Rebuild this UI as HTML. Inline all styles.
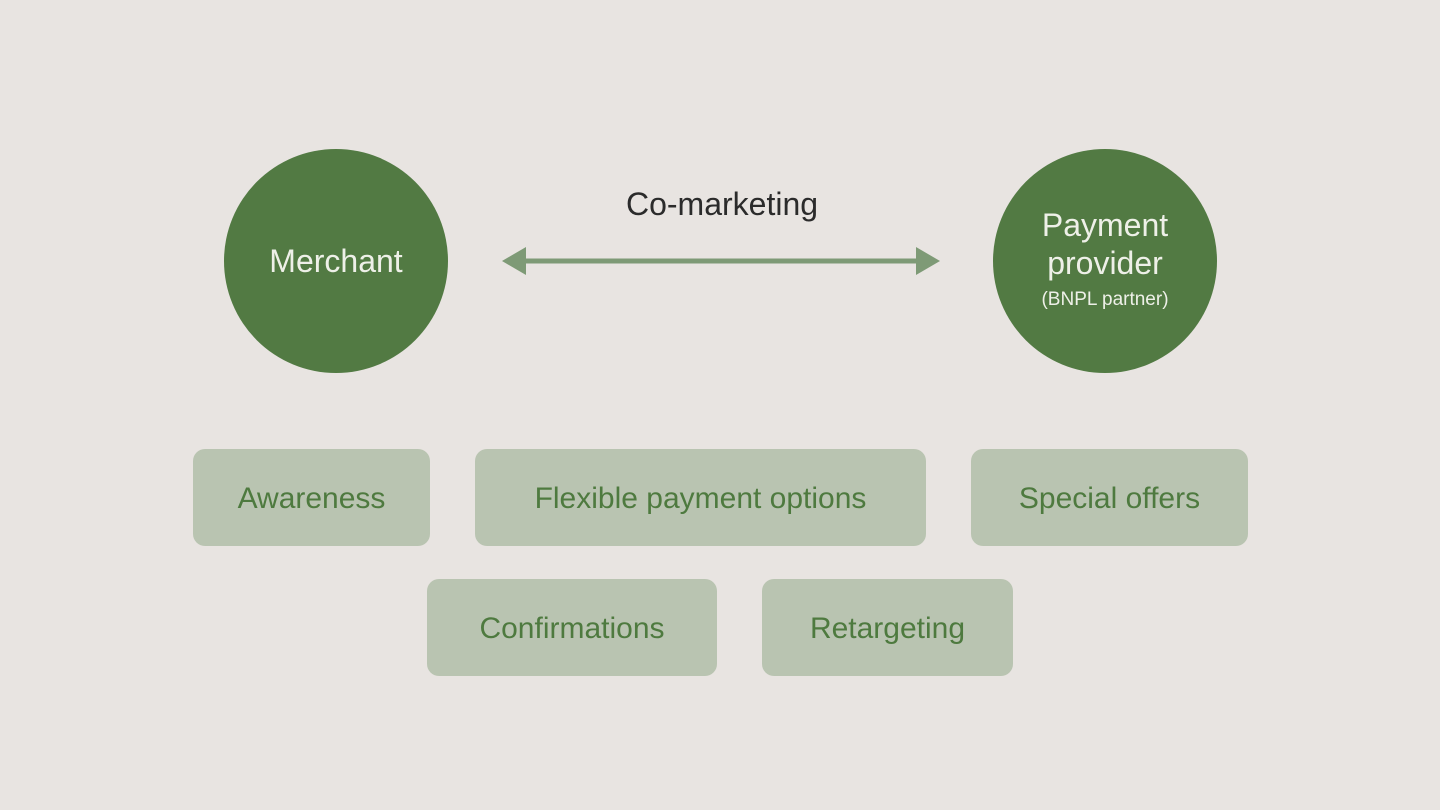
<!DOCTYPE html>
<html><head><meta charset="utf-8"><style>
html,body{margin:0;padding:0;}
body{width:1440px;height:810px;background:#e8e4e1;position:relative;overflow:hidden;font-family:"Liberation Sans",sans-serif;}
.c{position:absolute;width:224px;height:224px;border-radius:50%;background:#527a43;color:#eef0e8;display:flex;flex-direction:column;align-items:center;justify-content:center;text-align:center;}
.p{position:absolute;background:#b9c4b1;border-radius:12px;color:#4e7a3f;font-size:30px;display:flex;align-items:center;justify-content:center;padding-top:3px;box-sizing:border-box;}
</style></head><body>
<div class="c" style="left:224px;top:149px;font-size:32px;">Merchant</div>
<div class="c" style="left:993px;top:149px;font-size:32px;line-height:38px;"><div style="margin-top:-4px">Payment<br>provider</div><div style="font-size:19px;line-height:26px;margin-top:5px">(BNPL partner)</div></div>
<div style="position:absolute;left:522px;top:186px;width:400px;text-align:center;font-size:32px;color:#2b2b2b;">Co-marketing</div>
<svg style="position:absolute;left:0;top:0" width="1440" height="810">
<line x1="520" y1="261" x2="920" y2="261" stroke="#7e9a76" stroke-width="5"/>
<polygon points="502,261 526,247 526,275" fill="#7e9a76"/>
<polygon points="940,261 916,247 916,275" fill="#7e9a76"/>
</svg>
<div class="p" style="left:193px;top:449px;width:237px;height:97px;">Awareness</div>
<div class="p" style="left:475px;top:449px;width:451px;height:97px;">Flexible payment options</div>
<div class="p" style="left:971px;top:449px;width:277px;height:97px;">Special offers</div>
<div class="p" style="left:427px;top:579px;width:290px;height:97px;">Confirmations</div>
<div class="p" style="left:762px;top:579px;width:251px;height:97px;">Retargeting</div>
</body></html>
